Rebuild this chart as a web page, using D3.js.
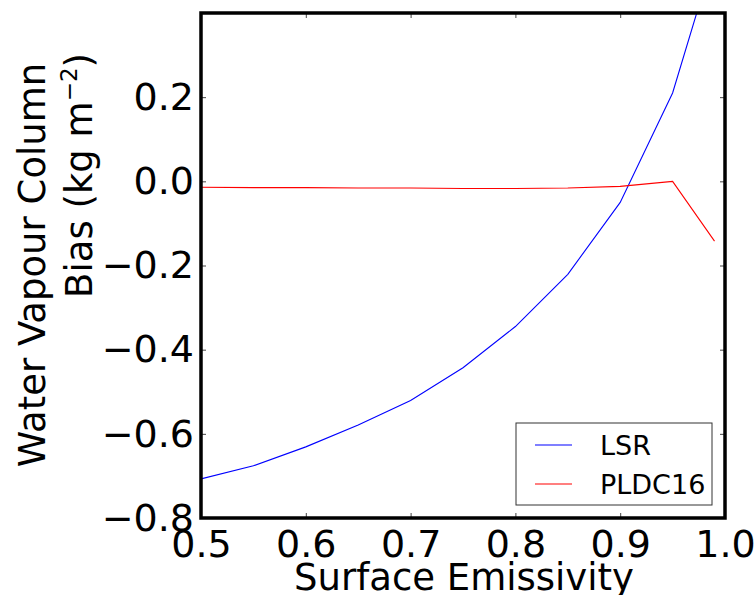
<!DOCTYPE html>
<html><head><meta charset="utf-8">
<script src="https://cdn.jsdelivr.net/npm/d3@7"></script>
<style>body{margin:0;background:#fff}svg{display:block}text{font-family:"DejaVu Sans",sans-serif}</style>
</head><body><svg id="c" width="755" height="595"></svg>
<script>
const emissivity = [0.5,0.55,0.6,0.65,0.7,0.75,0.8,0.85,0.9,0.95,0.99];
const lsr    = [-0.707,-0.676,-0.631,-0.579,-0.521,-0.443,-0.345,-0.221,-0.05,0.21,0.54];
const pldc16 = [-0.014,-0.015,-0.015,-0.016,-0.016,-0.017,-0.017,-0.016,-0.012,0.0,-0.142];
const xTicks = [0.5,0.6,0.7,0.8,0.9,1.0];
const yTicks = [-0.8,-0.6,-0.4,-0.2,0.0,0.2];
const seriesNames = ["LSR","PLDC16"];
const seriesColors = ["#0000ff","#ff0000"];

const L=201,R=725,T=13,B=518;
const svg=d3.select("#c");
const x=d3.scaleLinear().domain([0.5,1.0]).range([L,R]);
const y=d3.scaleLinear().domain([-0.8,0.4]).range([B,T]);

svg.append("clipPath").attr("id","clip").append("rect").attr("x",L).attr("y",T).attr("width",R-L).attr("height",B-T);

const line=d3.line().x((d,i)=>x(emissivity[i])).y(d=>y(d));
[lsr,pldc16].forEach((s,k)=>{
  svg.append("path").datum(s).attr("d",line).attr("fill","none")
    .attr("stroke",seriesColors[k]).attr("stroke-width",1.1).attr("clip-path","url(#clip)");
});

const fmt=d=>(d<0?"\u2212":"")+Math.abs(d).toFixed(1);
const axB=d3.axisBottom(x).tickValues(xTicks).tickSizeInner(-5).tickSizeOuter(0).tickPadding(12).tickFormat(fmt);
const axT=d3.axisTop(x).tickValues(xTicks).tickSizeInner(-5).tickSizeOuter(0).tickFormat("");
const axL=d3.axisLeft(y).tickValues(yTicks).tickSizeInner(-5).tickSizeOuter(0).tickPadding(7).tickFormat(fmt);
const axR=d3.axisRight(y).tickValues(yTicks).tickSizeInner(-5).tickSizeOuter(0).tickFormat("");
function style(g){g.select(".domain").remove();g.selectAll(".tick line").attr("stroke","#444").attr("stroke-width",1);
  g.selectAll("text").attr("font-size",38).attr("fill","#000").attr("font-family","DejaVu Sans");}
svg.append("g").attr("transform",`translate(0,${B})`).call(axB).call(style);
svg.append("g").attr("transform",`translate(0,${T})`).call(axT).call(style);
svg.append("g").attr("transform",`translate(${L},0)`).call(axL).call(style);
svg.append("g").attr("transform",`translate(${R},0)`).call(axR).call(style);

svg.append("rect").attr("x",L).attr("y",T).attr("width",R-L).attr("height",B-T)
  .attr("fill","none").attr("stroke","#000").attr("stroke-width",3.5);

const lg=svg.append("g");
lg.append("rect").attr("x",516).attr("y",423).attr("width",196).attr("height",82)
  .attr("fill","#fff").attr("stroke","#333").attr("stroke-width",1);
seriesNames.forEach((n,k)=>{
  const yy=445+k*39;
  lg.append("line").attr("x1",535).attr("x2",572).attr("y1",yy).attr("y2",yy).attr("stroke",seriesColors[k]).attr("stroke-width",1.1);
  lg.append("text").attr("x",600).attr("y",yy+10).attr("font-size",27).text(n);
});

svg.append("text").attr("x",464).attr("y",590).attr("text-anchor","middle").attr("font-size",37).text("Surface Emissivity");
svg.append("text").attr("transform","translate(45,265) rotate(-90)").attr("text-anchor","middle").attr("font-size",37).text("Water Vapour Column");
const t2=svg.append("text").attr("transform","translate(92,53) rotate(-90)").attr("text-anchor","end").attr("font-size",37);
t2.append("tspan").text("Bias (kg m");
t2.append("tspan").attr("font-size",23).attr("dy",-15).text("\u22122");
t2.append("tspan").attr("dy",15).text(")");
</script></body></html>
